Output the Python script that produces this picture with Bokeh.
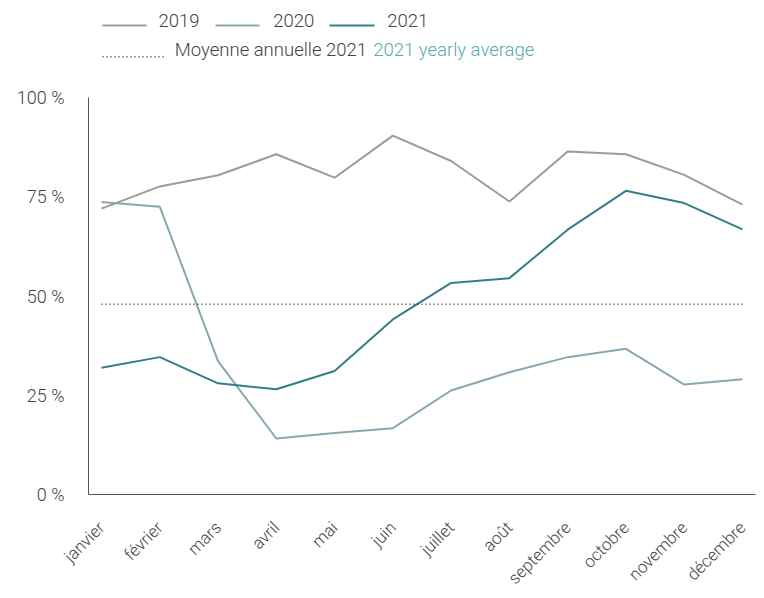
import math
from bokeh.plotting import figure
from bokeh.models import Range1d, FixedTicker
from bokeh.core.properties import value
from bokeh.embed import file_html
from bokeh.resources import INLINE

months = ["janvier", "février", "mars", "avril", "mai", "juin", "juillet",
          "août", "septembre", "octobre", "novembre", "décembre"]
y2019 = [72.0, 77.6, 80.4, 85.7, 79.8, 90.4, 84.0, 73.8, 86.4, 85.7, 80.5, 73.0]
y2020 = [73.7, 72.5, 33.6, 14.1, 15.5, 16.7, 26.2, 30.8, 34.6, 36.7, 27.7, 29.0]
y2021 = [31.9, 34.6, 28.0, 26.5, 31.1, 44.1, 53.3, 54.5, 66.7, 76.5, 73.4, 66.8]
avg_2021 = 47.9
y_ticks = [0, 25, 50, 75, 100]
y_tick_labels = ["0 %", "25 %", "50 %", "75 %", "100 %"]
series_names = ["2019", "2020", "2021"]
avg_label_fr = "Moyenne annuelle 2021"
avg_label_en = "2021 yearly average"

C2019 = "#a39896"
C2020 = "#89a7b1"
C2021 = "#357e88"
CAVG = "#5aa9ae"
TXT = "#444444"
FONT = "Roboto Light"

# ---- page geometry (pixels, page origin = figure origin) ----
W, H = 764, 598
FRAME_L, FRAME_R = 88, 755          # x of plot frame edges
X0_PX, DX_PX = 101.0, 58.27         # x of first month, spacing
Y0_PX, Y100_PX = 494.0, 97.0        # y of 0 % and 100 %
PX_PER_PCT = (Y0_PX - Y100_PX) / 100.0


def dx(px):
    return (px - X0_PX) / DX_PX


def dy(py):
    return (Y0_PX - py) / PX_PER_PCT


p = figure(width=W, height=H, output_backend="svg", toolbar_location=None,
           x_range=Range1d(dx(FRAME_L), dx(FRAME_R)),
           y_range=Range1d(y_ticks[0], dy(0)),
           min_border_left=FRAME_L, min_border_right=W - FRAME_R,
           min_border_top=0, min_border_bottom=H - int(Y0_PX),
           outline_line_color=None)
p.grid.visible = False

xs = list(range(len(months)))

# ---- data lines ----
p.line(xs, y2019, line_color=C2019, line_width=2)
p.line(xs, y2020, line_color=C2020, line_width=2)
p.line(xs, y2021, line_color=C2021, line_width=2)
p.line([xs[0], xs[-1]], [avg_2021, avg_2021], line_color="#333333",
       line_width=1.5, line_dash="1 3")

# ---- axes ----
p.yaxis.ticker = FixedTicker(ticks=y_ticks)
p.yaxis.bounds = (y_ticks[0], y_ticks[-1])
p.yaxis.major_label_overrides = {t: l for t, l in zip(y_ticks, y_tick_labels)}
p.yaxis.major_label_standoff = 24

p.xaxis.ticker = FixedTicker(ticks=xs)
p.xaxis.major_label_overrides = {i: m for i, m in zip(xs, months)}
p.xaxis.major_label_orientation = math.pi / 4
p.xaxis.major_label_standoff = 30

for ax in (p.xaxis, p.yaxis):
    ax.axis_line_color = "#555555"
    ax.axis_line_width = 1
    ax.major_tick_line_color = None
    ax.minor_tick_line_color = None
    ax.major_tick_out = 0
    ax.major_tick_in = 0
    ax.major_label_text_font = FONT
    ax.major_label_text_color = TXT
p.yaxis.major_label_text_font_size = "18px"
p.xaxis.major_label_text_font_size = "17px"

# ---- legend ----
leg_line_x = [(102, 146), (215, 259), (329, 374)]
leg_text_x = [158, 272.7, 386.7]
for (a, b), tx, col, name in zip(leg_line_x, leg_text_x,
                                 [C2019, C2020, C2021], series_names):
    p.line([dx(a), dx(b)], [dy(25), dy(25)], line_color=col, line_width=2)
    p.text([dx(tx)], [dy(19.5)], text=[name], text_font=value(FONT),
           text_font_size="18.5px", text_color=TXT, text_baseline="middle")

p.line([dx(102), dx(163)], [dy(56.2), dy(56.2)], line_color="#333333",
       line_width=1.5, line_dash="1 3")
p.text([dx(174.3)], [dy(49.5)], text=[avg_label_fr], text_font=value(FONT),
       text_font_size="18.5px", text_color=TXT, text_baseline="middle")
p.text([dx(372.7)], [dy(49.5)], text=[avg_label_en], text_font=value(FONT),
       text_font_size="18.5px", text_color=CAVG, text_baseline="middle")

open("out.html", "w").write(file_html(p, INLINE))
